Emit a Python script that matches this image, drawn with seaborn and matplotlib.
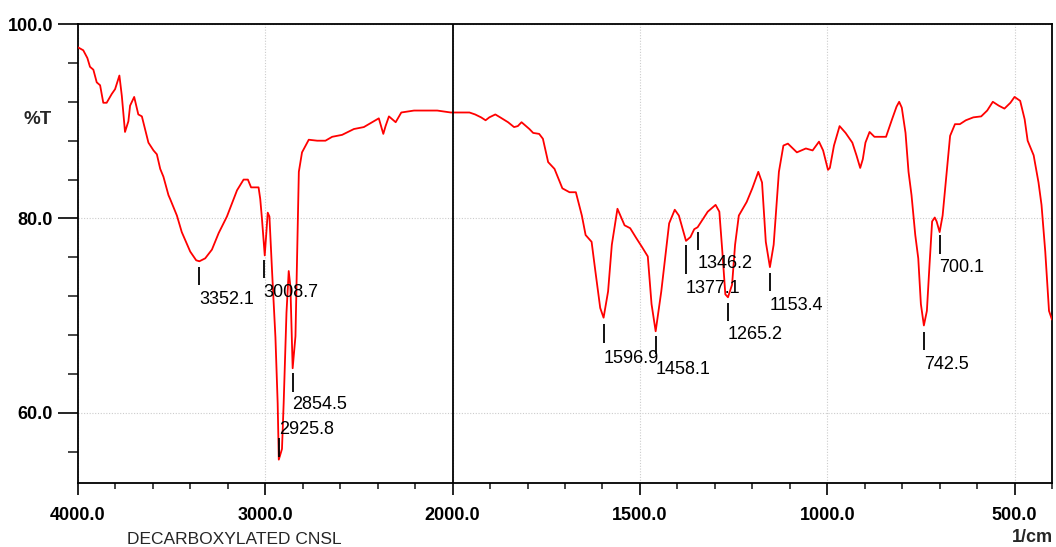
import numpy as np
import matplotlib
matplotlib.use("Agg")
import matplotlib.pyplot as plt
from matplotlib import font_manager
import seaborn as sns
import pandas as pd
from matplotlib.ticker import FixedLocator, FormatStrFormatter

# ---------------- data ----------------
wavenumber = [
    4000, 3972, 3950, 3936, 3918, 3900, 3882, 3865, 3847, 3820, 3802, 3779, 3766,
    3749, 3731, 3722, 3700, 3678, 3659, 3642, 3624, 3597, 3579, 3561, 3544, 3517,
    3508, 3472, 3446, 3401, 3369, 3352, 3321, 3285, 3249, 3205, 3169, 3151, 3116,
    3093, 3076, 3036, 3027, 3018, 3003, 2987, 2978, 2964, 2946, 2934, 2928, 2911,
    2902, 2887, 2875, 2866, 2854, 2839, 2821, 2804, 2768, 2723, 2679, 2643, 2590,
    2527, 2474, 2438, 2394, 2370, 2358, 2340, 2304, 2274, 2206, 2082, 2010, 2000,
    1955, 1940, 1924, 1912, 1902, 1886, 1873, 1852, 1836, 1826, 1816, 1795, 1785,
    1769, 1759, 1745, 1728, 1707, 1688, 1671, 1655, 1645, 1629, 1619, 1606, 1597,
    1585, 1575, 1560, 1541, 1526, 1510, 1495, 1479, 1469, 1458, 1443, 1422, 1407,
    1396, 1377, 1365, 1355, 1346, 1319, 1298, 1288, 1280, 1272, 1265, 1254, 1246,
    1236, 1215, 1200, 1184, 1174, 1164, 1153, 1143, 1129, 1117, 1105, 1081, 1057,
    1039, 1022, 1011, 998, 993, 982, 967, 951, 933, 922, 912, 905, 898, 887, 874,
    843, 827, 815, 808, 801, 791, 783, 775, 765, 757, 750, 742, 734, 727, 720, 713,
    708, 700, 692, 682, 672, 659, 646, 630, 610, 589, 573, 558, 542, 527, 511, 500,
    485, 473, 465, 449, 436, 428, 418, 408, 400,
]
transmittance = [
    97.6, 97.3, 96.5, 95.6, 95.3, 94.0, 93.7, 91.9, 91.9, 92.8, 93.3, 94.7, 92.6,
    88.9, 90.0, 91.6, 92.5, 90.7, 90.5, 89.2, 87.8, 87.0, 86.6, 85.1, 84.3, 82.4,
    82.0, 80.3, 78.6, 76.6, 75.7, 75.6, 75.9, 76.8, 78.5, 80.2, 82.0, 82.9, 84.0,
    84.0, 83.2, 83.2, 82.0, 80.0, 76.2, 80.6, 80.2, 74.6, 67.8, 61.0, 55.2, 56.3,
    61.0, 70.3, 74.6, 73.0, 64.6, 67.9, 84.8, 86.8, 88.1, 88.0, 88.0, 88.4, 88.6,
    89.2, 89.4, 89.8, 90.3, 88.7, 89.5, 90.5, 89.9, 90.9, 91.1, 91.1, 90.9, 90.9,
    90.9, 90.7, 90.4, 90.1, 90.4, 90.7, 90.4, 89.9, 89.4, 89.5, 89.9, 89.2, 88.8,
    88.7, 88.2, 85.8, 85.1, 83.1, 82.7, 82.7, 80.3, 78.3, 77.6, 74.6, 70.8, 69.8,
    72.5, 77.3, 81.0, 79.3, 79.0, 78.0, 77.1, 76.1, 71.2, 68.4, 72.5, 79.5, 80.9,
    80.3, 77.7, 78.1, 78.9, 79.1, 80.7, 81.4, 80.7, 76.6, 72.2, 71.9, 73.2, 77.3,
    80.3, 81.7, 83.1, 84.8, 83.7, 77.6, 75.0, 77.3, 84.8, 87.5, 87.7, 86.8, 87.2,
    87.0, 87.9, 87.0, 85.0, 85.2, 87.5, 89.5, 88.8, 87.8, 86.5, 85.2, 86.1, 87.8,
    88.9, 88.4, 88.4, 90.2, 91.5, 92.0, 91.4, 88.8, 84.8, 82.4, 78.3, 75.9, 71.2,
    69.0, 70.5, 75.2, 79.7, 80.1, 79.7, 78.6, 80.3, 84.4, 88.5, 89.7, 89.7, 90.1,
    90.4, 90.5, 91.1, 92.0, 91.6, 91.3, 91.9, 92.5, 92.1, 90.2, 88.0, 86.5, 83.7,
    81.4, 76.6, 70.5, 69.6,
]

peak_wn = [3352.1, 3008.7, 2925.8, 2854.5, 1596.9, 1458.1, 1377.1, 1346.2,
           1265.2, 1153.4, 742.5, 700.1]
peak_labels = ["3352.1", "3008.7", "2925.8", "2854.5", "1596.9", "1458.1",
               "1377.1", "1346.2", "1265.2", "1153.4", "742.5", "700.1"]
mark_top = [75.0, 75.7, 57.4, 64.1, 69.1, 67.9, 77.3, 78.6, 71.3, 74.4, 68.3, 78.3]
mark_bottom = [73.2, 73.9, 55.5, 62.2, 67.2, 66.1, 74.3, 76.8, 69.5, 72.5, 66.5, 76.3]
label_top = [72.5, 73.3, 59.2, 61.7, 66.5, 65.3, 73.7, 76.2, 68.9, 71.9, 65.9, 75.8]

x_major = [4000, 3000, 2000, 1500, 1000, 500]
x_minor = [3800, 3600, 3400, 3200, 2800, 2600, 2400, 2200,
           1900, 1800, 1700, 1600, 1400, 1300, 1200, 1100,
           900, 800, 700, 600, 400]
y_major = [60, 80, 100]
y_minor = [56, 64, 68, 72, 76, 84, 88, 92, 96]

# ---------------- style ----------------
sns.set_style("ticks")
plt.rcParams["font.family"] = ["Liberation Sans", "DejaVu Sans"]

installed = {f.name for f in font_manager.fontManager.ttflist}
if "Liberation Sans Narrow" in installed:
    peak_family = ["Liberation Sans Narrow", "DejaVu Sans"]
    peak_size = 16
else:
    peak_family = ["Liberation Sans", "DejaVu Sans"]
    peak_size = 13

W, H = 1056, 547
fig = plt.figure(figsize=(W / 100, H / 100), dpi=100)
ax = fig.add_axes([78 / W, 1 - 483 / H, (1052 - 78) / W, (483 - 24) / H])


def fwd(x):
    x = np.asarray(x, dtype=float)
    return np.where(x <= 2000, x, 2000 + (x - 2000) / 2.0)


def inv(y):
    y = np.asarray(y, dtype=float)
    return np.where(y <= 2000, y, 2000 + (y - 2000) * 2.0)


ax.set_xscale("function", functions=(fwd, inv))

df = pd.DataFrame({"wn": wavenumber, "T": transmittance})
sns.lineplot(data=df, x="wn", y="T", ax=ax, color="#ff0000", lw=1.3,
             estimator=None, sort=False, zorder=3)

ax.set_xlim(4000, 400)
ax.set_ylim(52.8, 100)

ax.xaxis.set_major_locator(FixedLocator(x_major))
ax.xaxis.set_minor_locator(FixedLocator(x_minor))
ax.yaxis.set_major_locator(FixedLocator(y_major))
ax.yaxis.set_minor_locator(FixedLocator(y_minor))
ax.xaxis.set_major_formatter(FormatStrFormatter("%.1f"))
ax.yaxis.set_major_formatter(FormatStrFormatter("%.1f"))
ax.grid(True, which="major", color="#cccccc", linestyle=(0, (1, 1.5)), lw=0.8)
ax.axvline(2000, color="black", lw=1.3, zorder=4)

for s in ax.spines.values():
    s.set_linewidth(1.3)
    s.set_color("black")
    s.set_visible(True)

ax.tick_params(axis="y", which="major", direction="out", length=14.4, width=1.2,
               pad=3.6, labelsize=13, colors="black")
ax.tick_params(axis="y", which="minor", direction="out", length=7.2, width=1.2)
ax.tick_params(axis="x", which="major", direction="out", length=8.6, width=1.2,
               pad=8.5, labelsize=13, colors="black")
ax.tick_params(axis="x", which="minor", direction="out", length=4.3, width=1.2)
for lbl in ax.get_xticklabels() + ax.get_yticklabels():
    lbl.set_fontweight("bold")

ax.set_xlabel("")
ax.set_ylabel("")

# peak markers and labels
ax.vlines(peak_wn, mark_bottom, mark_top, color="black", lw=1.3, zorder=5)
for wn, txt, yt in zip(peak_wn, peak_labels, label_top):
    ax.text(wn, yt, txt, ha="left", va="top", fontsize=peak_size,
            family=peak_family, color="black", zorder=6)

fig.text(52 / W, 1 - 120 / H, "%T", ha="right", va="center", fontsize=13.5,
         fontweight="bold")
fig.text(1053 / W, 1 - 537 / H, "1/cm", ha="right", va="center", fontsize=13,
         fontweight="bold")
fig.text(127 / W, 1 - 539 / H, "DECARBOXYLATED CNSL", ha="left", va="center",
         fontsize=12.5)

fig.savefig("out.png", dpi=100, facecolor="white")
